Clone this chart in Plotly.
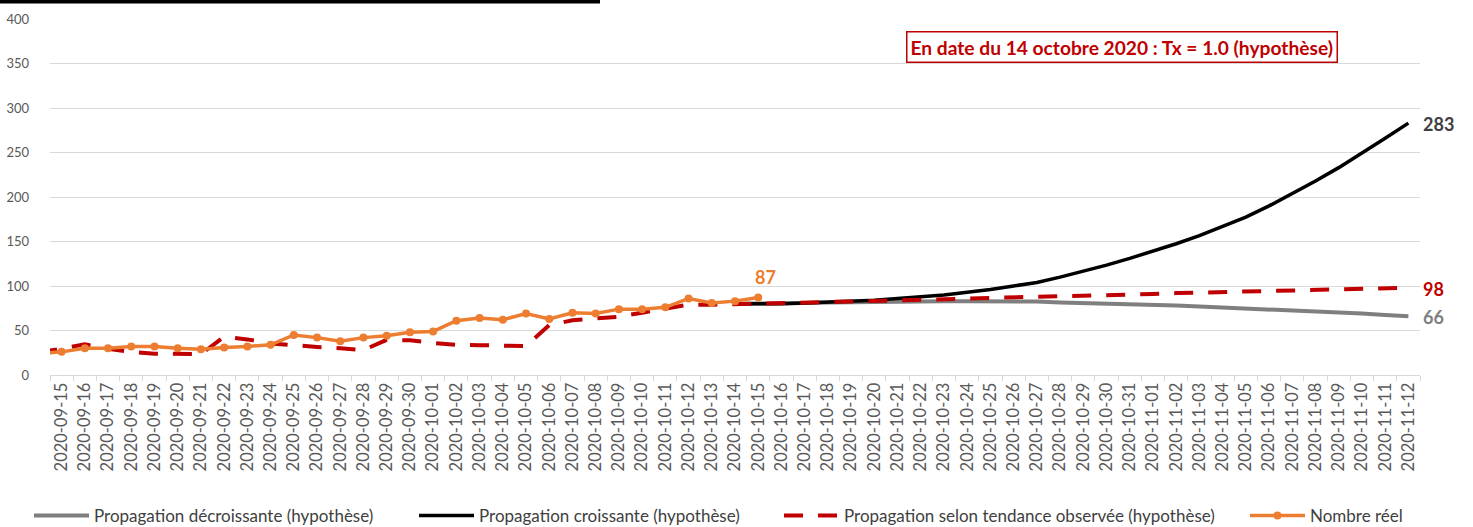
import pandas as pd
import plotly.graph_objects as go

# Categories: one hidden leading day (2020-09-14) whose segment is clipped at the left edge
dates = [d.strftime("%Y-%m-%d") for d in pd.date_range("2020-09-14", "2020-11-12", freq="D")]

N = None
reel = [24, 26, 30, 30, 32, 32, 30, 29, 31, 32,
        34, 45, 42, 38, 42, 44, 48, 49, 61, 64,
        62, 69, 63, 70, 69, 74, 74, 76, 86, 81,
        83, 87] + [N] * 28

tendance = [25, 30, 34.5, 29.5, 26, 24, 23.5, 23.5, 43, 40,
            35.5, 33, 31.5, 30, 28, 39.5, 39, 36, 34, 33.5,
            33, 32.5, 56, 61.5, 63.5, 65.5, 70, 74, 79, 79,
            79.5, 80, 80.5, 81, 82, 82.5, 83, 84, 84.5, 85,
            86, 86.5, 87, 88, 88.5, 89, 90, 90.5, 91, 92,
            92.5, 93, 94, 94.5, 95, 96, 96.5, 97, 97.5, 98]

croissante = [N] * 30 + [80, 80, 80, 81, 82, 83, 84, 86, 88, 90,
                         93, 96, 100, 104, 110, 116.5, 123.5, 131, 139, 147.5,
                         156.5, 166.5, 177.5, 190, 203.5, 218, 233, 249, 266, 283]

decroissante = [N] * 30 + [80, 80, 80.5, 81, 81.5, 82, 82, 82.5, 82.5, 83,
                           83, 83, 83, 82.5, 81.5, 81, 80.5, 79.5, 78.5, 78,
                           77, 76, 75, 74, 73, 72, 70.5, 69, 67.5, 66]

names = ["Propagation décroissante (hypothèse)",
         "Propagation croissante (hypothèse)",
         "Propagation selon tendance observée (hypothèse)",
         "Nombre réel"]

GRAY, BLACK, RED, ORANGE = "#7F7F7F", "#000000", "#C00000", "#ED7D31"
FONT = "Lato, Roboto, sans-serif"

fig = go.Figure()
fig.add_trace(go.Scatter(x=dates, y=decroissante, mode="lines", name=names[0],
                         line=dict(color=GRAY, width=4), legend="legend"))
fig.add_trace(go.Scatter(x=dates, y=croissante, mode="lines", name=names[1],
                         line=dict(color=BLACK, width=3.5), legend="legend2"))
fig.add_trace(go.Scatter(x=dates, y=tendance, mode="lines", name=names[2],
                         line=dict(color=RED, width=4, dash="19px,15px"), legend="legend3"))
fig.add_trace(go.Scatter(x=dates, y=reel, mode="lines+markers", name=names[3],
                         line=dict(color=ORANGE, width=3.5),
                         marker=dict(color=ORANGE, size=8), legend="legend4"))

def last(vals):
    i = max(k for k, v in enumerate(vals) if v is not None)
    return dates[i], vals[i]

# Data labels at the end of each series
x, y = last(reel)
fig.add_annotation(x=x, y=y, text=f"<b>{y:g}</b>", showarrow=False, xanchor="center",
                   yanchor="bottom", xshift=7, yshift=8,
                   font=dict(family=FONT, size=18, color=ORANGE))
for vals, col in [(croissante, "#404040"), (tendance, RED), (decroissante, GRAY)]:
    x, y = last(vals)
    fig.add_annotation(x=x, y=y, text=f"<b>{y:g}</b>", showarrow=False, xanchor="left",
                       yanchor="middle", xshift=13, yshift=-1,
                       font=dict(family=FONT, size=18, color=col))

fig.add_annotation(xref="paper", yref="paper", x=(1122 - 50) / 1370, y=(375 - 47) / 356,
                   text="<b>En date du 14 octobre 2020 : Tx = 1.0 (hypothèse)</b>",
                   showarrow=False, xanchor="center", yanchor="middle",
                   font=dict(family=FONT, size=19.2, color=RED),
                   bordercolor=RED, borderwidth=1.5, borderpad=3, bgcolor="white")

# thick black bar at the very top-left
fig.add_shape(type="rect", xref="paper", yref="paper",
              x0=(0 - 50) / 1370, x1=(600 - 50) / 1370,
              y0=(375 - 3.5) / 356, y1=(375 + 2) / 356,
              fillcolor="black", line=dict(width=0), layer="above")

leg_common = dict(orientation="h", yanchor="middle", y=(375 - 516) / 356, xanchor="left",
                  bgcolor="rgba(0,0,0,0)", itemwidth=55,
                  font=dict(family=FONT, size=17, color="#404040"))
fig.update_layout(
    width=1473, height=527,
    margin=dict(l=50, r=53, t=19, b=152, autoexpand=False),
    paper_bgcolor="white", plot_bgcolor="white",
    showlegend=True,
    legend=dict(x=(29 - 50) / 1370, **leg_common),
    legend2=dict(x=(414 - 50) / 1370, **leg_common),
    legend3=dict(x=(779 - 50) / 1370, **leg_common),
    legend4=dict(x=(1245 - 50) / 1370, **leg_common),
    xaxis=dict(type="category", range=[0.5, len(dates) - 0.5], tickangle=-90,
               automargin=False,
               showgrid=False, showline=True, linecolor="#D9D9D9", linewidth=1,
               ticks="outside", tickson="boundaries", ticklen=5, tickcolor="#D9D9D9",
               tickfont=dict(family=FONT, size=16.5, color="#595959")),
    yaxis=dict(range=[0, 400], dtick=50, showgrid=True, gridcolor="#D9D9D9",
               automargin=False,
               zeroline=False, showline=False, ticks="", ticklabelstandoff=20,
               tickfont=dict(family=FONT, size=13, color="#595959")),
)

fig.write_html("out.html", config={"displayModeBar": False},
               post_script="document.body.style.margin='0';document.body.style.padding='0';")
